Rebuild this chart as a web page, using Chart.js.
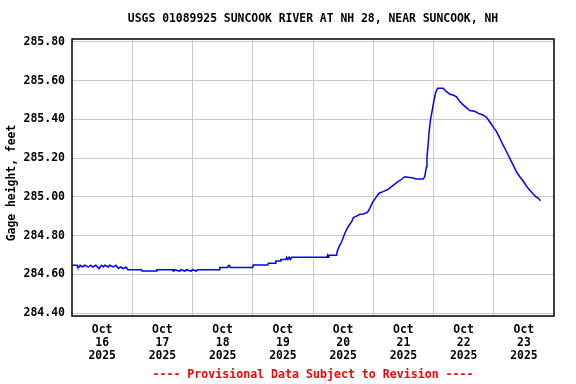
<!DOCTYPE html>
<html>
<head>
<meta charset="utf-8">
<script src="https://cdn.jsdelivr.net/npm/chart.js@4.4.1/dist/chart.umd.min.js"></script>
<style>
  html, body { margin: 0; padding: 0; background: #fff; }
  canvas { display: block; }
</style>
</head>
<body>
<canvas id="chart" width="576" height="384"></canvas>
<script>
// hours since Oct 16 2025 00:00
const hours = [
  0, 2.0, 2.25, 3.0, 3.25, 4.25, 5.0, 6.5, 7.5, 8.25, 9.5, 10.75, 11.75, 12.5, 13.0, 14.5, 15.0, 16.5, 17.5, 18.5, 19.25, 20.5, 21.5,
  22.3, 27.7, 27.9, 33.6, 33.8, 40.0, 40.3, 40.6, 43.0, 43.3, 45.0, 45.5, 47.5, 48.0, 49.5, 50.0,
  58.7, 58.9, 62.0, 62.3, 62.8, 63.0, 72.0, 72.2, 78.0, 78.2, 81.0, 81.2, 83.0, 83.2, 85.2, 85.5, 86.0, 86.5, 87.0, 87.5, 88.0,
  101.5, 101.8, 102.0, 102.3, 105.4,
  105.6, 106.4, 107.4, 108.7, 110.0, 111.4, 112.0, 113.3, 114.7, 116.0, 117.7, 118.6, 119.9, 121.3, 122.3, 123.9,
  125.9, 127.3, 129.3, 131.3, 132.6, 133.9, 135.9, 137.0, 139.9, 140.5, 141.2, 141.4, 141.8, 142.2, 142.8, 143.4,
  144.1, 144.8, 145.6, 147.8, 149.2, 150.5, 151.8, 153.2, 154.5, 155.8, 157.1, 158.4, 160.4, 161.7, 163.7, 165.1,
  166.4, 167.7, 169.1, 170.4, 171.7, 173.1, 174.4, 175.7, 177.0, 178.4, 179.7, 181.0, 182.3, 183.7, 185.0, 185.7, 186.6
];
const gageFt = [
  284.647, 284.647, 284.638, 284.638, 284.647, 284.638, 284.647, 284.638, 284.647, 284.638, 284.647, 284.630, 284.647, 284.638, 284.647, 284.638, 284.647, 284.638, 284.647, 284.630, 284.638, 284.630, 284.638,
  284.624, 284.624, 284.617, 284.617, 284.624, 284.624, 284.617, 284.624, 284.617, 284.624, 284.617, 284.624, 284.617, 284.624, 284.617, 284.624,
  284.624, 284.636, 284.636, 284.646, 284.646, 284.636, 284.636, 284.648, 284.648, 284.657, 284.657, 284.669, 284.669, 284.677, 284.677, 284.688, 284.677, 284.688, 284.677, 284.688, 284.688,
  284.688, 284.698, 284.688, 284.698, 284.698,
  284.717, 284.743, 284.768, 284.812, 284.846, 284.872, 284.892, 284.901, 284.910, 284.912, 284.920, 284.941, 284.975, 285.001, 285.019, 285.027,
  285.039, 285.053, 285.073, 285.091, 285.104, 285.101, 285.098, 285.092, 285.092, 285.104, 285.156, 285.208, 285.259, 285.328, 285.397, 285.440,
  285.492, 285.535, 285.561, 285.561, 285.543, 285.530, 285.526, 285.517, 285.492, 285.475, 285.461, 285.446, 285.442, 285.432, 285.423, 285.411,
  285.388, 285.363, 285.337, 285.303, 285.268, 285.233, 285.199, 285.165, 285.130, 285.104, 285.082, 285.056, 285.036, 285.015, 284.998, 284.994, 284.980
];
const yTicks = [284.4, 284.6, 284.8, 285.0, 285.2, 285.4, 285.6, 285.8];
const dayLabels = ['16', '17', '18', '19', '20', '21', '22', '23'];
const monthLabel = 'Oct';
const yearLabel = '2025';
const titleText = 'USGS 01089925 SUNCOOK RIVER AT NH 28, NEAR SUNCOOK, NH';
const yTitle = 'Gage height, feet';
const footerText = '---- Provisional Data Subject to Revision ----';

const FONT = '"DejaVu Sans Mono", "Liberation Mono", monospace';
const GRID = '#c8c8c8';

// title, axis title, footer and frame
const decor = {
  id: 'decor',
  afterDraw(chart) {
    const { ctx, chartArea: a } = chart;
    ctx.save();
    ctx.strokeStyle = '#000';
    ctx.lineWidth = 1.5;
    ctx.strokeRect(a.left, a.top, a.right - a.left, a.bottom - a.top);

    ctx.font = 'bold 11.4px ' + FONT;
    ctx.fillStyle = '#000';
    ctx.textAlign = 'center';
    ctx.textBaseline = 'middle';
    ctx.fillText(titleText, (a.left + a.right) / 2, 19.5);

    ctx.save();
    ctx.translate(12, 183);
    ctx.rotate(-Math.PI / 2);
    ctx.fillText(yTitle, 0, 0);
    ctx.restore();

    ctx.fillStyle = '#ff0000';
    ctx.font = 'bold 11.6px ' + FONT;
    ctx.fillText(footerText, (a.left + a.right) / 2, 375);
    ctx.restore();
  }
};

new Chart(document.getElementById('chart'), {
  type: 'line',
  data: {
    datasets: [{
      data: hours.map((h, i) => ({ x: h, y: gageFt[i] })),
      borderColor: '#0000ff',
      borderWidth: 1.5,
      pointRadius: 0,
      tension: 0,
      fill: false
    }]
  },
  options: {
    responsive: false,
    animation: false,
    devicePixelRatio: 1,
    layout: { padding: { left: 0, right: 22, top: 39, bottom: 0 } },
    plugins: {
      legend: { display: false },
      title: { display: false },
      tooltip: { enabled: false }
    },
    scales: {
      x: {
        type: 'linear',
        min: 0,
        max: 192,
        afterFit: s => { s.height = 68; },
        afterBuildTicks: s => {
          const t = [];
          for (let h = 0; h <= 192; h += 12) t.push({ value: h });
          s.ticks = t;
        },
        border: { display: false },
        grid: {
          drawTicks: false,
          lineWidth: 1,
          color: c => {
            const v = c.tick && c.tick.value;
            return (v % 24 === 0 && v > 0 && v < 192) ? GRID : 'rgba(0,0,0,0)';
          }
        },
        ticks: {
          autoSkip: false,
          maxRotation: 0,
          padding: 8,
          color: '#000',
          font: { family: FONT, size: 11.4, weight: 'bold', lineHeight: 1.14 },
          callback: v => (v % 24 === 12) ? [monthLabel, dayLabels[(v - 12) / 24], yearLabel] : ''
        }
      },
      y: {
        min: 284.385,
        max: 285.815,
        afterFit: s => { s.width = 72; },
        afterBuildTicks: s => { s.ticks = yTicks.map(v => ({ value: v })); },
        border: { display: false },
        grid: { drawTicks: false, color: GRID, lineWidth: 1 },
        ticks: {
          padding: 7,
          color: '#000',
          font: { family: FONT, size: 11.5, weight: 'bold' },
          callback: v => v.toFixed(2)
        }
      }
    }
  },
  plugins: [decor]
});
</script>
</body>
</html>
